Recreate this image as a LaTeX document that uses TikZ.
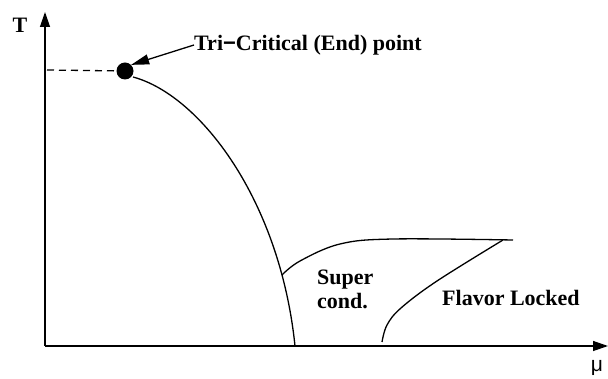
\documentclass[tikz,border=0pt]{standalone}
\usepackage{fontspec}
\setmainfont{Liberation Serif}
\newfontfamily\symfont{Liberation Sans}
\usetikzlibrary{arrows.meta}
\begin{document}
\begin{tikzpicture}[x=1pt,y=-1pt,
  line/.style={line width=1.3pt},
  axis/.style={line width=1.3pt,-{Triangle[length=15pt,width=10pt]}},
  lbl/.style={font=\bfseries\fontsize{22}{24}\selectfont, inner sep=0pt},
  dot/.style={circle,fill=black,minimum size=17pt,inner sep=0pt}]
\useasboundingbox (0,0) rectangle (608,379);
\coordinate (O) at (45,346);
\coordinate (Ty) at (45,12);
\coordinate (Ux) at (608,346);
\draw[axis] (O) -- (Ty);
\draw[axis] (O) -- (Ux);
\node[lbl] (T) at (20,25) {T};
\node[font=\symfont\fontsize{21}{23}\selectfont, inner sep=0pt] (mu) at (597,368) {μ};
\node[dot] (tc) at (125,71) {};
\coordinate (dl) at (47,70);
\draw[line,dashed,dash pattern=on 7pt off 5pt] (dl) -- (tc);
\node[lbl,anchor=west] (tcl) at (194,45) {Tri{\symfont\bfseries\char"2212}Critical (End) point};
\draw[line,-{Triangle[length=18pt,width=10pt]}] (tcl.west) -- (tc.north east);
\coordinate (c1) at (133,77);
\coordinate (c2) at (295,346);
\draw[line] (c1) .. controls (200,95) and (280,200) .. (c2);
\coordinate (j) at (282,275);
\draw[line] plot[smooth,tension=0.6] coordinates {(282,275) (300,261) (340,244) (393,239) (513,240)};
\draw[line] plot[smooth,tension=0.6] coordinates {(382,342) (387,325) (401,308) (437,281) (503,240)};
\node[lbl,anchor=west,align=left] (sc) at (317,289) {Super\\cond.};
\node[lbl,anchor=west] (fl) at (442,298) {Flavor Locked};
\end{tikzpicture}
\end{document}
